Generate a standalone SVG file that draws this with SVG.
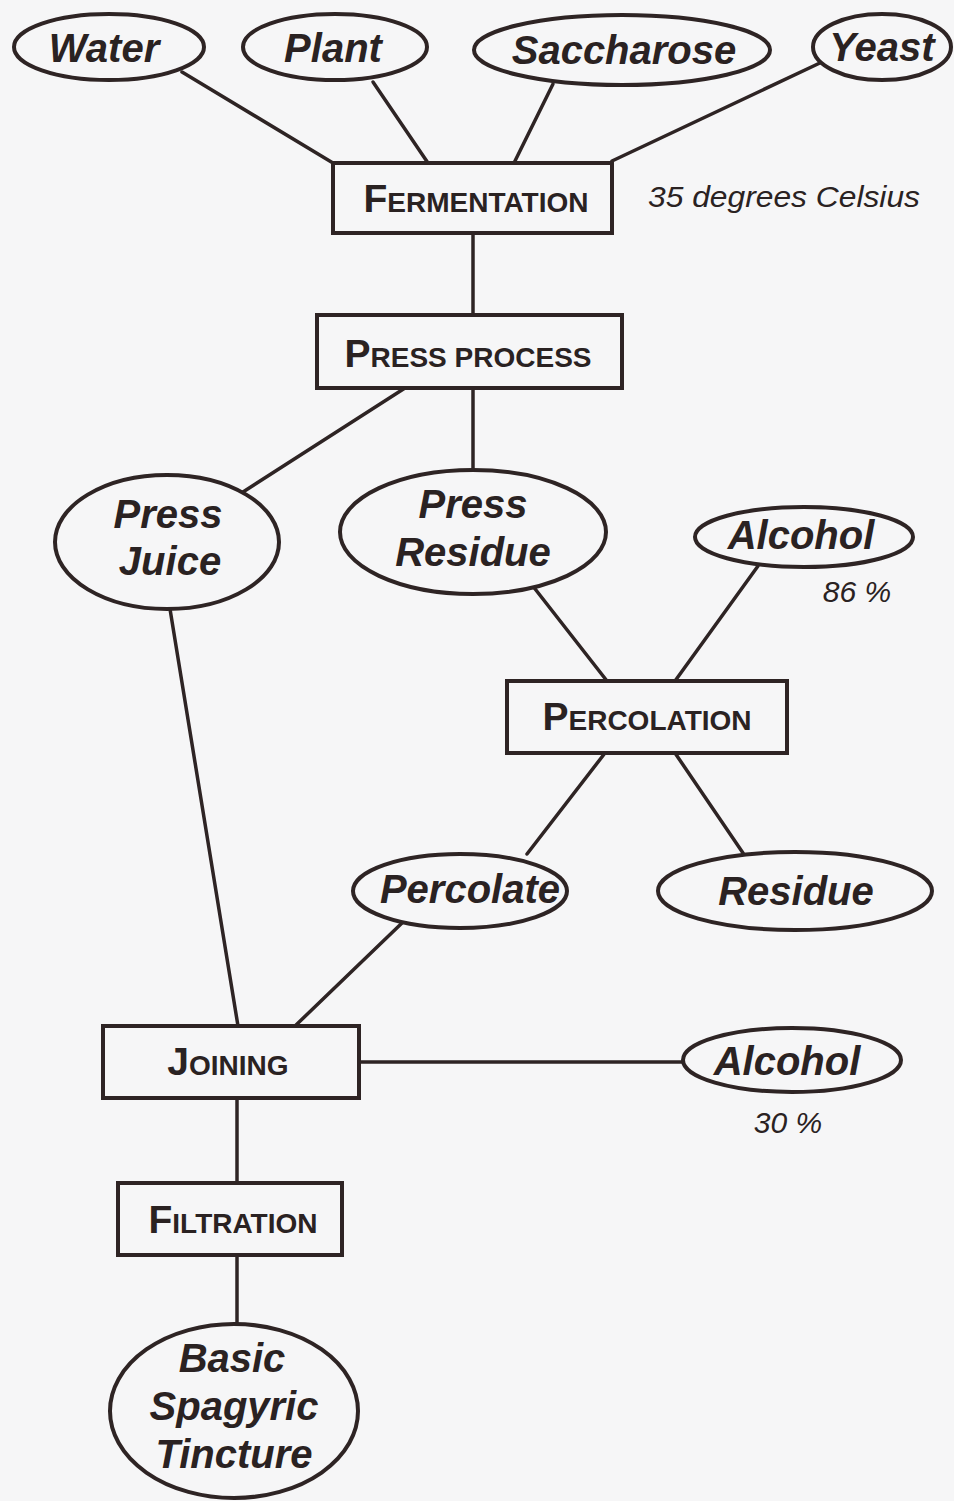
<svg xmlns="http://www.w3.org/2000/svg" width="954" height="1501" viewBox="0 0 954 1501">
<style>
.bg{fill:#f6f6f7}
.shape{fill:#f6f6f7;stroke:#2e2424;stroke-width:4}
.conn line{stroke:#2e2424;stroke-width:3.5;stroke-linecap:round}
.lbl{font-family:"Liberation Sans",Arial,sans-serif;font-weight:bold;font-style:italic;font-size:40px;fill:#2a2222;text-anchor:middle}
.box{font-family:"Liberation Sans",Arial,sans-serif;font-weight:bold;font-size:39px;fill:#2a2222;text-anchor:middle}
.sc{font-size:28px}
.note{font-family:"Liberation Sans",Arial,sans-serif;font-style:italic;font-size:30px;fill:#2a2222}
</style>
<rect class="bg" x="0" y="0" width="954" height="1501"/>
<g id="connectors" class="conn">
<line x1="182" y1="72" x2="333" y2="163"/>
<line x1="373" y1="82" x2="428" y2="163"/>
<line x1="553" y1="84" x2="514" y2="163"/>
<line x1="822" y1="62" x2="612" y2="161"/>
<line x1="473" y1="233" x2="473" y2="315"/>
<line x1="405" y1="388" x2="243" y2="492"/>
<line x1="473" y1="388" x2="473" y2="470"/>
<line x1="532" y1="585" x2="607" y2="681"/>
<line x1="758" y1="566" x2="675" y2="681"/>
<line x1="605" y1="753" x2="527" y2="854"/>
<line x1="675" y1="753" x2="743" y2="853"/>
<line x1="170" y1="609" x2="238" y2="1026"/>
<line x1="402" y1="923" x2="295" y2="1026"/>
<line x1="359" y1="1062" x2="682" y2="1062"/>
<line x1="237" y1="1098" x2="237" y2="1183"/>
<line x1="237" y1="1255" x2="237" y2="1323"/>
</g>
<g id="water"><ellipse class="shape" cx="109" cy="47" rx="95" ry="33"/><text class="lbl" x="104" y="62">Water</text></g>
<g id="plant"><ellipse class="shape" cx="335" cy="47" rx="92" ry="33"/><text class="lbl" x="333" y="62">Plant</text></g>
<g id="saccharose"><ellipse class="shape" cx="622" cy="50" rx="148" ry="35"/><text class="lbl" x="624" y="64">Saccharose</text></g>
<g id="yeast"><ellipse class="shape" cx="882" cy="47" rx="69" ry="33"/><text class="lbl" x="882" y="61">Yeast</text></g>
<g id="fermentation"><rect class="shape" x="333" y="163" width="279" height="70"/><text class="box" x="476" y="212">F<tspan class="sc">ERMENTATION</tspan></text></g>
<g id="note-35"><text class="note" x="648" y="207" textLength="272" lengthAdjust="spacingAndGlyphs">35 degrees Celsius</text></g>
<g id="press-process"><rect class="shape" x="317" y="315" width="305" height="73"/><text class="box" x="468" y="367">P<tspan class="sc">RESS PROCESS</tspan></text></g>
<g id="press-juice"><ellipse class="shape" cx="167" cy="542" rx="112" ry="67"/><text class="lbl" x="168" y="528">Press</text><text class="lbl" x="170" y="575">Juice</text></g>
<g id="press-residue"><ellipse class="shape" cx="473" cy="532" rx="133" ry="62"/><text class="lbl" x="473" y="518">Press</text><text class="lbl" x="473" y="566">Residue</text></g>
<g id="alcohol-86"><ellipse class="shape" cx="804" cy="537" rx="109" ry="30"/><text class="lbl" x="801" y="549">Alcohol</text><text class="note" x="857" y="602" text-anchor="middle">86 %</text></g>
<g id="percolation"><rect class="shape" x="507" y="681" width="280" height="72"/><text class="box" x="647" y="730">P<tspan class="sc">ERCOLATION</tspan></text></g>
<g id="percolate"><ellipse class="shape" cx="460" cy="891" rx="107" ry="37"/><text class="lbl" x="470" y="903">Percolate</text></g>
<g id="residue"><ellipse class="shape" cx="795" cy="891" rx="137" ry="39"/><text class="lbl" x="796" y="905">Residue</text></g>
<g id="joining"><rect class="shape" x="103" y="1026" width="256" height="72"/><text class="box" x="228" y="1075">J<tspan class="sc">OINING</tspan></text></g>
<g id="alcohol-30"><ellipse class="shape" cx="792" cy="1060" rx="109" ry="32"/><text class="lbl" x="787" y="1075">Alcohol</text><text class="note" x="788" y="1133" text-anchor="middle">30 %</text></g>
<g id="filtration"><rect class="shape" x="118" y="1183" width="224" height="72"/><text class="box" x="233" y="1233">F<tspan class="sc">ILTRATION</tspan></text></g>
<g id="tincture"><ellipse class="shape" cx="234" cy="1411" rx="124" ry="87"/><text class="lbl" x="232" y="1372">Basic</text><text class="lbl" x="234" y="1420">Spagyric</text><text class="lbl" x="234" y="1468">Tincture</text></g>
</svg>
